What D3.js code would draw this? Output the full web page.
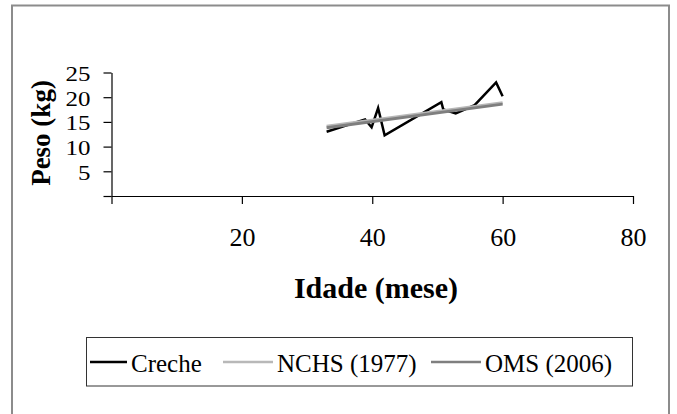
<!DOCTYPE html>
<html>
<head>
<meta charset="utf-8">
<script src="https://cdn.jsdelivr.net/npm/d3@7"></script>
<style>
  body { margin: 0; background: #fff; }
  text { font-family: "Liberation Serif", "Times New Roman", serif; fill: #000; }
</style>
</head>
<body>
<div id="chart"></div>
<script>
// data (age in months, weight in kg)
const crecheAge = [33, 38.9, 39.9, 40.9, 41.9, 50.6, 50.9, 52.8, 55.7, 59, 60];
const crecheKg = [13.0, 15.5, 13.9, 17.8, 12.3, 19.0, 17.5, 16.7, 18.4, 23.0, 20.2];
const nchsAge = [33, 60];
const nchsKg = [14.1, 18.9];
const omsAge = [33, 60];
const omsKg = [13.8, 18.6];
const xTicks = [0, 20, 40, 60, 80];
const yTicks = [0, 5, 10, 15, 20, 25];
const seriesNames = ["Creche", "NCHS (1977)", "OMS (2006)"];
const seriesColors = ["#000000", "#b8b8b8", "#7f7f7f"];

// set the dimensions and margins of the graph
const W = 677, H = 414;
const margin = { top: 72.5, left: 111.5 },
	width = 633 - margin.left,
	height = 196 - margin.top;

const root = d3.select("#chart").append("svg")
	.attr("width", W)
	.attr("height", H);

// outer frame
root.append("rect")
	.attr("x", 12).attr("y", 5.5)
	.attr("width", 657).attr("height", 430)
	.attr("fill", "none")
	.attr("stroke", "#8c8c8c")
	.attr("stroke-width", 2);

const svg = root.append("g")
	.attr("transform", `translate(${margin.left},${margin.top})`);

const x = d3.scaleLinear().domain([0, 80]).range([0, width]);
const y = d3.scaleLinear().domain([0, 25]).range([height, 0]);

// X axis
const gx = svg.append("g")
	.attr("transform", `translate(0,${height})`)
	.call(d3.axisBottom(x).tickValues(xTicks).tickSize(8).tickSizeOuter(0)
		.tickFormat(d => d === 0 ? "" : d));
gx.selectAll("text")
	.attr("y", 49.7).attr("dy", 0)
	.style("font-size", "26px");

// Y axis
const gy = svg.append("g")
	.call(d3.axisLeft(y).tickValues(yTicks).tickSize(8).tickSizeOuter(0)
		.tickFormat(d => d === 0 ? "" : d));
gy.selectAll("text")
	.attr("x", null).attr("dy", null)
	.attr("transform", "translate(-21,8) scale(1,0.85)")
	.style("font-size", "25px");

root.selectAll(".domain, .tick line").attr("stroke", "#000").attr("stroke-width", 1.2);

// axis titles
root.append("text")
	.attr("transform", "translate(50,133) rotate(-90)")
	.attr("text-anchor", "middle")
	.style("font-size", "27px")
	.style("font-weight", "bold")
	.text("Peso (kg)");

root.append("text")
	.attr("x", 376).attr("y", 298)
	.attr("text-anchor", "middle")
	.style("font-size", "30px")
	.style("font-weight", "bold")
	.text("Idade (mese)");

// the lines
const line = d3.line().x(d => x(d[0])).y(d => y(d[1]));
const series = [
	d3.zip(crecheAge, crecheKg),
	d3.zip(nchsAge, nchsKg),
	d3.zip(omsAge, omsKg)
];
series.forEach((pts, i) => {
	svg.append("path")
		.datum(pts)
		.attr("fill", "none")
		.attr("stroke", seriesColors[i])
		.attr("stroke-width", i === 0 ? 2.5 : 3)
		.attr("stroke-linejoin", "miter")
		.attr("d", line);
});

// legend
root.append("rect")
	.attr("x", 86.5).attr("y", 337.5)
	.attr("width", 546).attr("height", 48.5)
	.attr("fill", "#fff")
	.attr("stroke", "#333")
	.attr("stroke-width", 1);

const legendX = [90, 223, 431];
const legendLen = [37, 50, 50];
seriesNames.forEach((name, i) => {
	root.append("line")
		.attr("x1", legendX[i]).attr("x2", legendX[i] + legendLen[i])
		.attr("y1", 362).attr("y2", 362)
		.attr("stroke", seriesColors[i])
		.attr("stroke-width", 2.5);
	root.append("text")
		.attr("x", legendX[i] + legendLen[i] + 4).attr("y", 371.5)
		.style("font-size", "25px")
		.text(name);
});
</script>
</body>
</html>
